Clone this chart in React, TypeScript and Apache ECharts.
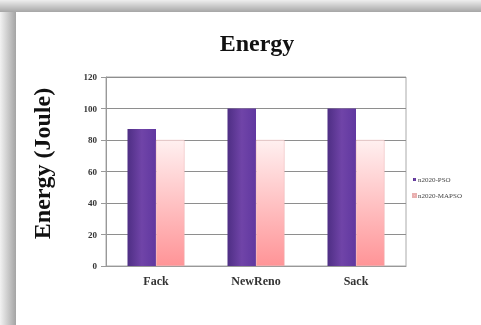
import React, { useEffect, useRef } from "react";
import * as echarts from "echarts";

const categories = ["Fack", "NewReno", "Sack"];
const seriesNames = ["n2020-PSO", "n2020-MAPSO"];
const seriesA = [87, 100, 100];
const seriesB = [80, 80, 80];
const yTicks = { min: 0, max: 120, interval: 20 };

export default function App() {
  const ref = useRef<HTMLDivElement>(null);
  useEffect(() => {
    const chart = echarts.init(ref.current!, null, { renderer: "svg" });
    const serif = "'Liberation Serif', 'DejaVu Serif', serif";
    chart.setOption({
      animation: false,
      graphic: [
        {
          type: "rect",
          shape: { x: 0, y: 0, width: 481, height: 325 },
          style: { fill: "#f2f2f2" },
          z: -10,
          silent: true,
        },
        {
          type: "rect",
          shape: { x: 0, y: 0, width: 481, height: 12 },
          style: {
            fill: new echarts.graphic.LinearGradient(0, 0, 0, 1, [
              { offset: 0, color: "#eeeeee" },
              { offset: 1, color: "#a6a6a6" },
            ]),
          },
          z: -10,
          silent: true,
        },
        {
          type: "rect",
          shape: { x: 0, y: 12, width: 16, height: 313 },
          style: {
            fill: new echarts.graphic.LinearGradient(0, 0, 1, 0, [
              { offset: 0, color: "#f2f2f2" },
              { offset: 1, color: "#a4a4a4" },
            ]),
          },
          z: -10,
          silent: true,
        },
        {
          type: "rect",
          shape: { x: 16, y: 12, width: 470, height: 320 },
          style: { fill: "#ffffff" },
          z: -9,
          silent: true,
        },
      ],
      title: {
        text: "Energy",
        left: 252,
        top: 26,
        textAlign: "center",
        textStyle: { fontFamily: serif, fontWeight: "bold", fontSize: 24, color: "#111" },
      },
      legend: {
        orient: "vertical",
        left: 407,
        top: 171,
        itemWidth: 3,
        itemHeight: 3,
        itemGap: 9,
        icon: "rect",
        textStyle: { fontFamily: serif, fontSize: 7, color: "#444", padding: [0, 0, 0, -3] },
        data: seriesNames,
      },
      grid: {
        left: 106,
        right: 75,
        top: 77,
        bottom: 59,
        containLabel: false,
        show: true,
        borderColor: "#aaa",
        borderWidth: 1,
      },
      xAxis: {
        type: "category",
        data: categories,
        axisLine: { lineStyle: { color: "#999" } },
        axisTick: { show: false },
        axisLabel: { fontFamily: serif, fontWeight: "bold", fontSize: 12, color: "#333", margin: 9 },
      },
      yAxis: {
        type: "value",
        min: yTicks.min,
        max: yTicks.max,
        interval: yTicks.interval,
        name: "Energy (Joule)",
        nameLocation: "middle",
        nameGap: 52,
        nameTextStyle: {
          fontFamily: serif,
          fontWeight: "bold",
          fontSize: 24,
          color: "#111",
          padding: [0, 0, 0, 16],
        },
        axisLine: { show: true, lineStyle: { color: "#999" } },
        axisTick: { show: true, length: 5, lineStyle: { color: "#999" } },
        axisLabel: { fontFamily: serif, fontWeight: "bold", fontSize: 9, color: "#333", margin: 9 },
        splitLine: { lineStyle: { color: "#8e8e8e", width: 1 } },
      },
      series: [
        {
          name: seriesNames[0],
          type: "bar",
          data: seriesA,
          barGap: "0%",
          barCategoryGap: "43%",
          itemStyle: {
            color: new echarts.graphic.LinearGradient(0, 0, 1, 0, [
              { offset: 0, color: "#4e2e84" },
              { offset: 0.5, color: "#7044a8" },
              { offset: 1, color: "#6038a0" },
            ]),
          },
        },
        {
          name: seriesNames[1],
          type: "bar",
          data: seriesB,
          itemStyle: {
            color: new echarts.graphic.LinearGradient(0, 0, 0, 1, [
              { offset: 0, color: "#fff0f0" },
              { offset: 1, color: "#ff9497" },
            ]),
            borderColor: "#e8b0b0",
            borderWidth: 0.5,
          },
        },
      ],
    });
    return () => chart.dispose();
  }, []);
  return (
    <div
      ref={ref}
      style={{ position: "fixed", left: 0, top: 0, width: 481, height: 325 }}
    />
  );
}
